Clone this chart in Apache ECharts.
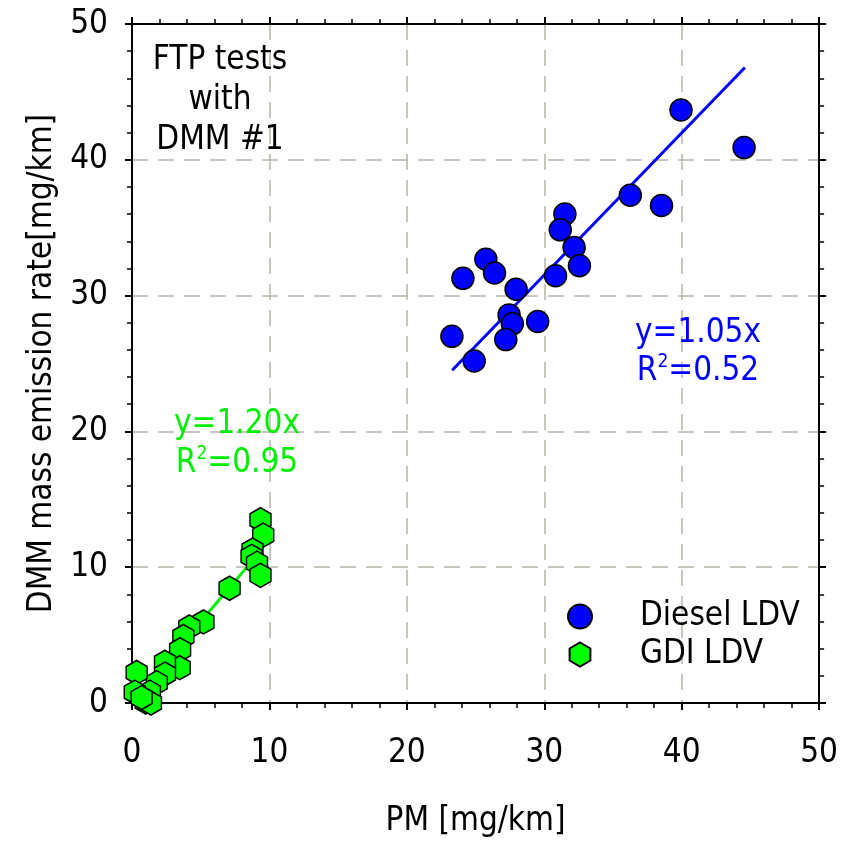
<!DOCTYPE html>
<html>
<head>
<meta charset="utf-8">
<script src="https://cdn.jsdelivr.net/npm/echarts@6/dist/echarts.min.js"></script>
<style>html,body{margin:0;padding:0;background:#fff}#c{width:841px;height:843px}</style>
</head>
<body>
<div id="c"></div>
<script>
const dieselX = [39.95, 44.54, 36.26, 38.53, 31.5, 31.16, 32.17, 32.56, 30.82, 25.75, 26.38, 24.08, 27.95, 27.44, 27.68, 29.52, 27.2, 23.28, 24.9];
const dieselY = [43.67, 40.9, 37.39, 36.63, 36.0, 34.84, 33.55, 32.2, 31.46, 32.68, 31.66, 31.27, 30.47, 28.58, 27.92, 28.09, 26.76, 27.0, 25.18];
const gdiX = [9.35, 9.55, 8.77, 8.7, 9.1, 9.35, 7.1, 5.2, 4.17, 3.74, 3.5, 3.47, 2.4, 2.4, 1.8, 1.3, 0.34, 0.2, 1.0, 1.38, 0.7];
const gdiY = [13.5, 12.36, 11.26, 10.8, 10.3, 9.4, 8.45, 5.97, 5.6, 4.9, 3.92, 2.6, 3.0, 2.13, 1.5, 0.8, 2.25, 0.8, 0.07, 0.0, 0.4];
const dieselFitX = [23.3, 44.6];
const dieselFitY = [24.5, 46.8];
const gdiFitX = [0.3, 9.2];
const gdiFitY = [0.4, 11.0];
const xTicks = [0, 10, 20, 30, 40, 50];
const yTicks = [0, 10, 20, 30, 40, 50];

const FONT = "'DejaVu Sans Condensed', 'DejaVu Sans', sans-serif";
const FS = 33;
const hex = 'path://M0,-1 L0.866,-0.5 L0.866,0.5 L0,1 L-0.866,0.5 L-0.866,-0.5 Z';
const zip = (a, b) => a.map((v, i) => [v, b[i]]);

const gridStyle = { show: true, lineStyle: { color: '#b5b5a8', width: 1.5, type: [16, 10] } };
function axisBase(pos, showLabel, margin) {
  return {
    type: 'value', position: pos, min: 0, max: 50, interval: 10,
    axisLine: { show: true, onZero: false, lineStyle: { color: '#000', width: 2 } },
    axisTick: { show: true, inside: false, length: 7, lineStyle: { color: '#000', width: 2 } },
    minorTick: { show: true, splitNumber: 5, length: 5, lineStyle: { color: '#000', width: 1.5 } },
    axisLabel: { show: showLabel, color: '#000', fontFamily: FONT, fontSize: FS, margin: margin || 8 },
    splitLine: showLabel ? gridStyle : { show: false }
  };
}
const xMain = Object.assign(axisBase('bottom', true, 34), {
  name: 'PM [mg/km]', nameLocation: 'middle', nameGap: 102,
  nameTextStyle: { color: '#000', fontFamily: FONT, fontSize: FS }
});
const yMain = Object.assign(axisBase('left', true, 24), {
  name: 'DMM mass emission rate[mg/km]', nameLocation: 'middle', nameGap: 62,
  nameTextStyle: { color: '#000', fontFamily: FONT, fontSize: FS }
});

const chart = echarts.init(document.getElementById('c'));
chart.setOption({
  animation: false,
  backgroundColor: '#fff',
  grid: { left: 132, right: 19, top: 24, bottom: 132 },
  xAxis: [xMain, axisBase('top', false)],
  yAxis: [yMain, axisBase('right', false)],
  legend: {
    orient: 'vertical', left: 562, top: 595, itemGap: 5,
    itemWidth: 24, itemHeight: 24,
    data: ['Diesel LDV', 'GDI LDV'],
    textStyle: { color: '#000', fontFamily: FONT, fontSize: FS, padding: [0, 0, 0, 43] }
  },
  series: [
    { type: 'line', data: zip(dieselFitX, dieselFitY), symbol: 'none', silent: true, z: 1,
      lineStyle: { color: '#0000ff', width: 3 } },
    { type: 'line', data: zip(gdiFitX, gdiFitY), symbol: 'none', silent: true, z: 1,
      lineStyle: { color: '#00ee00', width: 3 } },
    { name: 'Diesel LDV', type: 'scatter', data: zip(dieselX, dieselY), symbol: 'circle', symbolSize: 22, z: 3,
      itemStyle: { color: '#0000ff', borderColor: '#000', borderWidth: 1.5, opacity: 1 } },
    { name: 'GDI LDV', type: 'scatter', data: zip(gdiX, gdiY), symbol: hex, symbolSize: [21, 24], z: 3,
      itemStyle: { color: '#00ff00', borderColor: '#000', borderWidth: 1.5, opacity: 1 } }
  ],
  graphic: [
    { type: 'text', z: 10, style: { text: 'FTP tests', x: 220, y: 60, align: 'center', verticalAlign: 'middle', fill: '#000', font: FS + 'px ' + FONT } },
    { type: 'text', z: 10, style: { text: 'with', x: 220, y: 100, align: 'center', verticalAlign: 'middle', fill: '#000', font: FS + 'px ' + FONT } },
    { type: 'text', z: 10, style: { text: 'DMM #1', x: 220, y: 140, align: 'center', verticalAlign: 'middle', fill: '#000', font: FS + 'px ' + FONT } },
    { type: 'text', z: 10, style: { text: 'y=1.20x', x: 237, y: 424, align: 'center', verticalAlign: 'middle', fill: '#00ee00', font: FS + 'px ' + FONT } },
    { type: 'text', z: 10, style: { text: '{a|R}{s|2}{a|=0.95}', x: 237, y: 463, align: 'center', verticalAlign: 'middle', fill: '#00ee00',
      rich: { a: { fontSize: FS, fontFamily: FONT, fill: '#00ee00' }, s: { fontSize: 19, fontFamily: FONT, fill: '#00ee00', verticalAlign: 'top', padding: [0, 0, 18, 0] } } } },
    { type: 'text', z: 10, style: { text: 'y=1.05x', x: 698, y: 333, align: 'center', verticalAlign: 'middle', fill: '#0000ff', font: FS + 'px ' + FONT } },
    { type: 'text', z: 10, style: { text: '{a|R}{s|2}{a|=0.52}', x: 698, y: 371, align: 'center', verticalAlign: 'middle', fill: '#0000ff',
      rich: { a: { fontSize: FS, fontFamily: FONT, fill: '#0000ff' }, s: { fontSize: 19, fontFamily: FONT, fill: '#0000ff', verticalAlign: 'top', padding: [0, 0, 18, 0] } } } }
  ]
});
</script>
</body>
</html>
